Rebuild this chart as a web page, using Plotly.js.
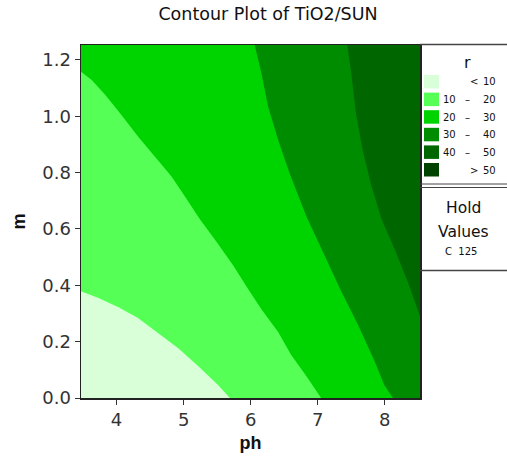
<!DOCTYPE html>
<html>
<head>
<meta charset="utf-8">
<script src="https://cdn.plot.ly/plotly-3.0.1.min.js"></script>
<style>html,body{margin:0;padding:0;background:#fff;}#chart{width:507px;height:456px;}</style>
</head>
<body>
<div id="chart"></div>
<script>
// ---- data ----
var chartTitle = "Contour Plot of TiO2/SUN";
var xLabel = "ph";
var yLabel = "m";
var legendTitle = "r";
var levels = [10, 20, 30, 40, 50];
var levelColors = ["#d8ffd8", "#55ff55", "#00d400", "#008c00", "#006600", "#004200"];
var holdLabel = ["Hold", "Values"];
var holdValue = "C  125";

// contour boundary lines (ph, m)
var ph_10 = [3.47, 3.73, 4.03, 4.32, 4.62, 4.92, 5.22, 5.51, 5.69];
var m_10  = [0.379, 0.355, 0.322, 0.284, 0.231, 0.177, 0.113, 0.047, 0.0];

var ph_20 = [3.47, 3.63, 3.83, 4.07, 4.32, 4.57, 4.82, 5.02, 5.24, 5.49, 5.74, 5.94, 6.16, 6.41, 6.60, 6.85, 7.05];
var m_20  = [1.158, 1.129, 1.076, 1.005, 0.928, 0.857, 0.786, 0.715, 0.635, 0.555, 0.470, 0.395, 0.315, 0.234, 0.154, 0.071, 0.0];

var ph_30 = [6.06, 6.16, 6.26, 6.41, 6.58, 6.83, 7.10, 7.35, 7.60, 7.85, 7.99, 8.12];
var m_30  = [1.253, 1.153, 1.034, 0.916, 0.798, 0.645, 0.509, 0.379, 0.260, 0.130, 0.047, 0.0];

var ph_40 = [7.44, 7.50, 7.57, 7.67, 7.79, 7.95, 8.14, 8.34, 8.525];
var m_40  = [1.253, 1.153, 1.011, 0.880, 0.762, 0.635, 0.532, 0.414, 0.290];

// ---- layout geometry ----
var W = 507, H = 456;
var L = 81, R = 87, T = 45, B = 58;
var plotW = W - L - R, plotH = H - T - B;
var xRange = [3.47, 8.525], yRange = [0, 1.253];
function px(x) { return (x - L) / plotW; }
function py(y) { return (H - B - y) / plotH; }

var X0 = 3.2, X1 = 8.8, Y0 = -0.1, Y1 = 1.4; // beyond the axes, clipped

function region(bx, by, cx, cy, color) {
  return {
    type: 'scatter', mode: 'lines',
    x: bx.concat(cx), y: by.concat(cy),
    fill: 'toself', fillcolor: color,
    line: {width: 0, color: color},
    hoverinfo: 'skip', showlegend: false
  };
}

var traces = [
  region([ph_40[0]].concat(ph_40, [X1]), [Y1].concat(m_40, [m_40[m_40.length-1]]), [X1, X0, X0], [Y0, Y0, Y1], levelColors[3]),
  region([ph_30[0]].concat(ph_30), [Y1].concat(m_30), [ph_30[ph_30.length-1], X0, X0], [Y0, Y0, Y1], levelColors[2]),
  region([X0].concat(ph_20), [m_20[0]].concat(m_20), [ph_20[ph_20.length-1], X0], [Y0, Y0], levelColors[1]),
  region([X0].concat(ph_10), [m_10[0]].concat(m_10), [ph_10[ph_10.length-1], X0], [Y0, Y0], levelColors[0])
];

var shapes = [];
var annotations = [];
var lineCol = '#444';
function hline(y, w) {
  shapes.push({type: 'line', xref: 'paper', yref: 'paper', x0: px(420), x1: px(510), y0: py(y), y1: py(y), line: {color: lineCol, width: w}});
}
hline(44.5, 1.5);
hline(184, 1);
hline(187.5, 1);
hline(270.5, 1.5);

function txt(x, y, s, size, anchor) {
  annotations.push({xref: 'paper', yref: 'paper', x: px(x), y: py(y), text: s, showarrow: false,
    xanchor: anchor || 'center', yanchor: 'middle',
    font: {family: 'DejaVu Sans', size: size, color: '#111'}});
}
txt(467, 62.5, legendTitle, 16);

for (var i = 0; i < levelColors.length; i++) {
  var rowTop = 75 + i * 17.6;
  shapes.push({type: 'rect', xref: 'paper', yref: 'paper', x0: px(424), x1: px(439), y0: py(rowTop), y1: py(rowTop + 13.5),
    fillcolor: levelColors[i], line: {width: 0}});
  var rowY = rowTop + 7;
  var left = '', mid = '\u2013', right = '';
  if (i === 0) { mid = '<'; right = String(levels[0]); }
  else if (i === levelColors.length - 1) { mid = '>'; right = String(levels[levels.length-1]); }
  else { left = String(levels[i-1]); right = String(levels[i]); }
  if (left) txt(458, rowY, left, 10, 'right');
  txt(i === 0 || i === levelColors.length - 1 ? 474 : 467, rowY, mid, 10);
  txt(498, rowY, right, 10, 'right');
}
txt(463.5, 208, holdLabel[0], 15.5);
txt(463.5, 232, holdLabel[1], 15.5);
txt(461, 251, holdValue, 10);

var axisCommon = {
  showline: true, mirror: true, linecolor: '#222', linewidth: 1.5,
  ticks: 'outside', ticklen: 5, tickcolor: '#333', tickwidth: 1,
  showgrid: false, zeroline: false,
  tickfont: {family: 'DejaVu Sans', size: 18, color: '#333'}
};

var layout = {
  width: W, height: H,
  margin: {l: L, r: R, t: T, b: B, pad: 0},
  paper_bgcolor: '#fff', plot_bgcolor: levelColors[4],
  title: {text: chartTitle, xref: 'container', x: 268 / W, xanchor: 'center',
          yref: 'container', y: 1 - 13.5 / H, yanchor: 'middle',
          font: {family: 'DejaVu Sans', size: 17.5, color: '#111'}},
  xaxis: Object.assign({}, axisCommon, {range: xRange, dtick: 1, tick0: 4,
          title: {text: xLabel, standoff: 7, font: {family: 'Liberation Sans', size: 18, color: '#111', weight: 'bold'}}}),
  yaxis: Object.assign({}, axisCommon, {range: yRange, dtick: 0.2, tick0: 0, tickformat: '.1f',
          title: {text: yLabel, standoff: 12, font: {family: 'Liberation Sans', size: 18, color: '#111', weight: 'bold'}}}),
  shapes: shapes,
  annotations: annotations,
  showlegend: false
};

Plotly.newPlot('chart', traces, layout, {staticPlot: true, displayModeBar: false});
</script>
</body>
</html>
